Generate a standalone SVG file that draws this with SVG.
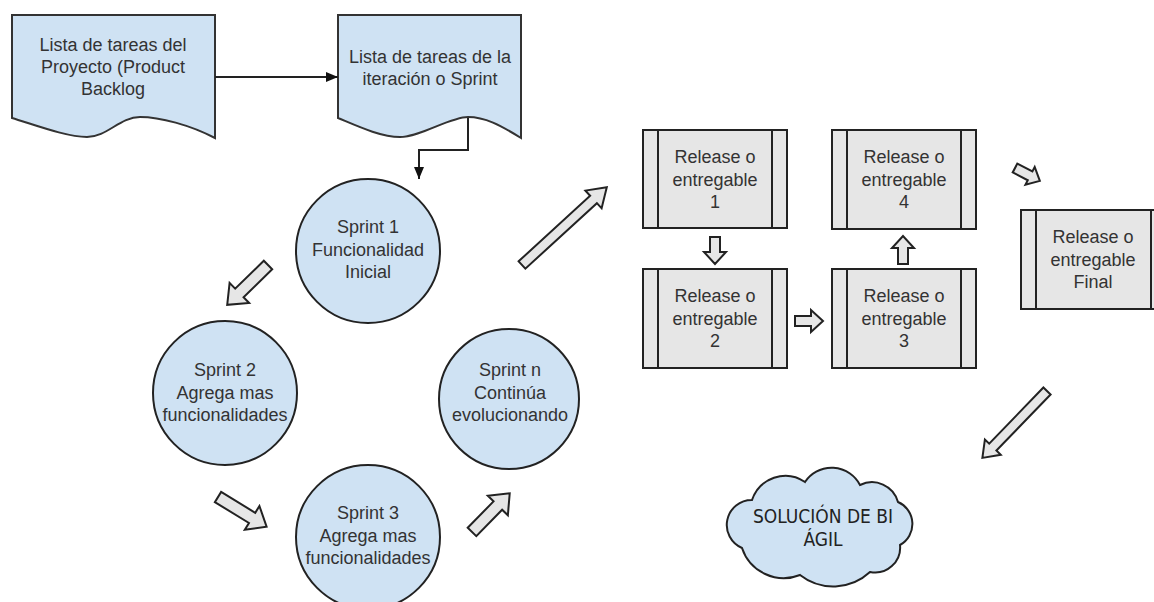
<svg xmlns="http://www.w3.org/2000/svg" width="1154" height="602" viewBox="0 0 1154 602">
  <style>
    .doc { fill: #cfe2f3; stroke: #333333; stroke-width: 2; }
    .sprint { fill: #cfe2f3; stroke: #222222; stroke-width: 2; }
    .rel { fill: #e6e6e6; stroke: #222222; stroke-width: 2; }
    .bar { stroke: #222222; stroke-width: 2; fill: none; }
    .blk { fill: #e6e6e6; stroke: #222222; stroke-width: 2; stroke-linejoin: miter; }
    .wire { fill: none; stroke: #222222; stroke-width: 2; }
    .lbl { font-family: "Liberation Sans", Arial, sans-serif; font-size: 18px; fill: #333333; text-anchor: middle; }
    .hand { font-family: "Liberation Sans Narrow", "DejaVu Sans Condensed", sans-serif; font-size: 19px; fill: #222222; text-anchor: middle; }
  </style>
  <defs>
    <marker id="tri" viewBox="0 0 12 10" refX="12" refY="5" markerWidth="12" markerHeight="10" markerUnits="userSpaceOnUse" orient="auto">
      <path d="M0,0 L12,5 L0,10 Z" fill="#111111"/>
    </marker>
  </defs>

  <rect width="1154" height="602" fill="#ffffff"/>

  <!-- backlog documents -->
  <g id="product-backlog">
    <path class="doc" d="M12,15 L215,15 L215,138 C190,125 160,117 140,117 C120,117 107,137 87,137 C67,137 35,125 12,118 Z"/>
    <text class="lbl" x="113" y="51">Lista de tareas del</text>
    <text class="lbl" x="113" y="73">Proyecto (Product</text>
    <text class="lbl" x="113" y="95">Backlog</text>
  </g>
  <g id="sprint-backlog">
    <path class="doc" d="M338,15 L521,15 L521,138 C500,125 485,117 468,117 C450,117 420,137 400,137 C380,137 355,125 338,118 Z"/>
    <text class="lbl" x="430" y="63">Lista de tareas de la</text>
    <text class="lbl" x="430" y="85">iteración o Sprint</text>
  </g>

  <!-- sprints -->
  <g id="sprint-1">
    <circle class="sprint" cx="368" cy="251" r="72"/>
    <text class="lbl" x="368" y="233">Sprint 1</text>
    <text class="lbl" x="368" y="256">Funcionalidad</text>
    <text class="lbl" x="368" y="278">Inicial</text>
  </g>
  <g id="sprint-2">
    <circle class="sprint" cx="225" cy="393" r="72"/>
    <text class="lbl" x="225" y="376">Sprint 2</text>
    <text class="lbl" x="225" y="399">Agrega mas</text>
    <text class="lbl" x="225" y="421">funcionalidades</text>
  </g>
  <g id="sprint-3">
    <circle class="sprint" cx="368" cy="537" r="72"/>
    <text class="lbl" x="368" y="519">Sprint 3</text>
    <text class="lbl" x="368" y="542">Agrega mas</text>
    <text class="lbl" x="368" y="564">funcionalidades</text>
  </g>
  <g id="sprint-n">
    <circle class="sprint" cx="509" cy="399" r="70"/>
    <text class="lbl" x="510" y="376">Sprint n</text>
    <text class="lbl" x="510" y="399">Continúa</text>
    <text class="lbl" x="510" y="421">evolucionando</text>
  </g>

  <!-- releases -->
  <g id="release-1">
    <rect class="rel" x="643" y="130" width="144" height="98"/>
    <path class="bar" d="M658,130 V228 M772,130 V228"/>
    <text class="lbl" x="715" y="163">Release o</text>
    <text class="lbl" x="715" y="186">entregable</text>
    <text class="lbl" x="715" y="208">1</text>
  </g>
  <g id="release-2">
    <rect class="rel" x="643" y="269" width="144" height="99"/>
    <path class="bar" d="M658,269 V368 M772,269 V368"/>
    <text class="lbl" x="715" y="302">Release o</text>
    <text class="lbl" x="715" y="325">entregable</text>
    <text class="lbl" x="715" y="347">2</text>
  </g>
  <g id="release-3">
    <rect class="rel" x="832" y="269" width="144" height="99"/>
    <path class="bar" d="M847,269 V368 M961,269 V368"/>
    <text class="lbl" x="904" y="302">Release o</text>
    <text class="lbl" x="904" y="325">entregable</text>
    <text class="lbl" x="904" y="347">3</text>
  </g>
  <g id="release-4">
    <rect class="rel" x="832" y="130" width="144" height="99"/>
    <path class="bar" d="M847,130 V229 M961,130 V229"/>
    <text class="lbl" x="904" y="163">Release o</text>
    <text class="lbl" x="904" y="186">entregable</text>
    <text class="lbl" x="904" y="208">4</text>
  </g>
  <g id="release-final">
    <rect class="rel" x="1021" y="210" width="144" height="99"/>
    <path class="bar" d="M1036,210 V309 M1151,210 V309"/>
    <text class="lbl" x="1093" y="243">Release o</text>
    <text class="lbl" x="1093" y="266">entregable</text>
    <text class="lbl" x="1093" y="288">Final</text>
  </g>

  <!-- result cloud -->
  <g id="solucion-bi">
    <path class="sprint" d="M742,548 A25,25 0 0 1 752,500 A35,35 0 0 1 805,482 A32,32 0 0 1 860,485 A27,27 0 0 1 898,502 A24,24 0 0 1 900,545 A25,25 0 0 1 870,572 A54,54 0 0 1 800,575 A44,44 0 0 1 742,548 Z"/>
    <text class="hand" x="823" y="523">SOLUCIÓN DE BI</text>
    <text class="hand" x="823" y="546">ÁGIL</text>
  </g>

  <!-- connectors -->
  <g id="connectors">
    <path class="wire" d="M215,77 H338" marker-end="url(#tri)"/>
    <path class="wire" d="M468,118 V150 H419 V179" marker-end="url(#tri)"/>

    <!-- block arrows: tail at origin, pointing along +x -->
    <path class="blk" transform="translate(268,265) rotate(135.7)" d="M0,-6 L40,-6 L40,-14 L57,0 L40,14 L40,6 L0,6 Z"/>
    <path class="blk" transform="translate(218,497) rotate(31.5)" d="M0,-6 L40,-6 L40,-14 L57,0 L40,14 L40,6 L0,6 Z"/>
    <path class="blk" transform="translate(472,532) rotate(-45.7)" d="M0,-6 L37,-6 L37,-14 L54,0 L37,14 L37,6 L0,6 Z"/>
    <path class="blk" transform="translate(522,265) rotate(-42.5)" d="M0,-5 L97,-5 L97,-12 L115,0 L97,12 L97,5 L0,5 Z"/>
    <path class="blk" transform="translate(715,237) rotate(90)" d="M0,-5 L15,-5 L15,-11 L27,0 L15,11 L15,5 L0,5 Z"/>
    <path class="blk" transform="translate(795,321)" d="M0,-5 L16,-5 L16,-11 L28,0 L16,11 L16,5 L0,5 Z"/>
    <path class="blk" transform="translate(903,264) rotate(-90)" d="M0,-5 L16,-5 L16,-11 L28,0 L16,11 L16,5 L0,5 Z"/>
    <path class="blk" transform="translate(1015,168) rotate(27.5)" d="M0,-5 L17,-5 L17,-10 L28,0 L17,10 L17,5 L0,5 Z"/>
    <path class="blk" transform="translate(1047,391) rotate(134)" d="M0,-5 L78,-5 L78,-11 L93,0 L78,11 L78,5 L0,5 Z"/>
  </g>
</svg>
